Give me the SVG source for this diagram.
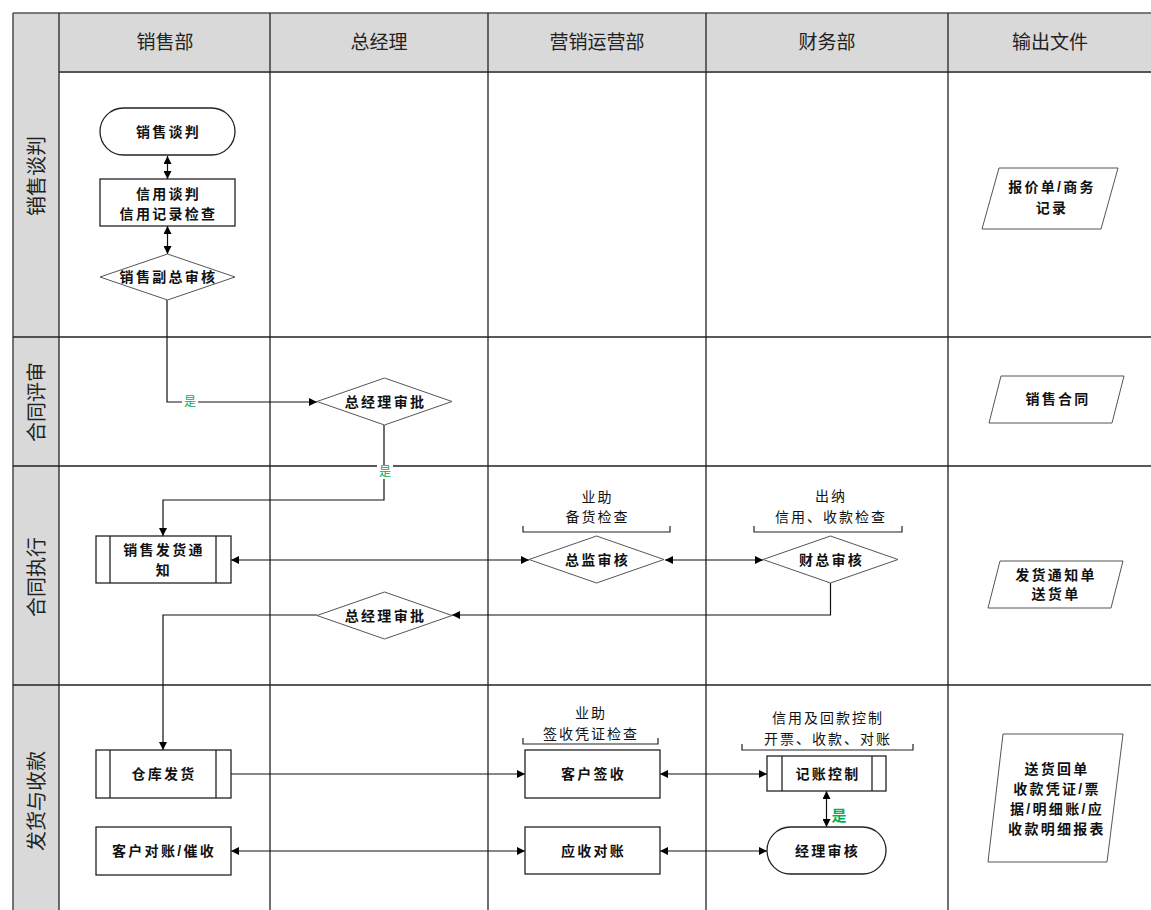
<svg xmlns="http://www.w3.org/2000/svg" width="1151" height="910" viewBox="0 0 1151 910">
<style>
.grid{stroke:#222;stroke-width:1.3;fill:none}
.hdr{font-family:"Liberation Sans","Noto Sans CJK SC",sans-serif;font-size:19px;fill:#222;text-anchor:middle;dominant-baseline:central}
.lane{font-family:"Liberation Sans","Noto Sans CJK SC",sans-serif;font-size:20px;fill:#222;text-anchor:middle;dominant-baseline:central}
.box{fill:#fff;stroke:#222;stroke-width:1.3}
.dia{fill:#fff;stroke:#555;stroke-width:1}
.t{font-family:"Liberation Sans","Noto Sans CJK SC",sans-serif;font-size:14px;font-weight:bold;fill:#111;text-anchor:middle;dominant-baseline:central;letter-spacing:2.3px}
.a{font-family:"Liberation Sans","Noto Sans CJK SC",sans-serif;font-size:14px;fill:#111;text-anchor:middle;dominant-baseline:central;letter-spacing:2px}
.yes{font-family:"Liberation Sans","Noto Sans CJK SC",sans-serif;font-size:12px;fill:#00b050;text-anchor:middle;dominant-baseline:central}
.c{stroke:#111;stroke-width:1.2;fill:none}
.br{stroke:#222;stroke-width:1.2;fill:none}
</style>
<defs>
<marker id="ah" viewBox="0 0 10 10" refX="10" refY="5" markerWidth="10" markerHeight="8" markerUnits="userSpaceOnUse" orient="auto-start-reverse">
<path d="M0,0 L10,5 L0,10 z" fill="#000"/>
</marker>
</defs>
<rect width="1151" height="910" fill="#fff"/>
<g id="grid">
<rect x="13" y="13" width="1138" height="59" fill="#d9d9d9"/>
<rect x="13" y="72" width="46" height="838" fill="#d9d9d9"/>
<line class="grid" x1="13" y1="13" x2="1151" y2="13" style="stroke:#555;stroke-width:1.6"/>
<line class="grid" x1="59" y1="72" x2="1151" y2="72" style="stroke:#555;stroke-width:1.8"/>
<line class="grid" x1="13" y1="13" x2="13" y2="910" style="stroke:#555;stroke-width:1.6"/>
<line class="grid" x1="59" y1="13" x2="59" y2="910"/>
<line class="grid" x1="270" y1="13" x2="270" y2="910"/>
<line class="grid" x1="488" y1="13" x2="488" y2="910"/>
<line class="grid" x1="706" y1="13" x2="706" y2="910"/>
<line class="grid" x1="948" y1="13" x2="948" y2="910"/>
<line class="grid" x1="13" y1="337" x2="1151" y2="337"/>
<line class="grid" x1="13" y1="466" x2="1151" y2="466"/>
<line class="grid" x1="13" y1="685" x2="1151" y2="685"/>
<text class="hdr" x="165" y="42">销售部</text>
<text class="hdr" x="379" y="42">总经理</text>
<text class="hdr" x="597" y="42">营销运营部</text>
<text class="hdr" x="827" y="42">财务部</text>
<text class="hdr" x="1050" y="42">输出文件</text>
<text class="lane" transform="translate(37,176) rotate(-90)">销售谈判</text>
<text class="lane" transform="translate(37,402) rotate(-90)">合同评审</text>
<text class="lane" transform="translate(37,577) rotate(-90)">合同执行</text>
<text class="lane" transform="translate(37,801) rotate(-90)">发货与收款</text>
</g>
<g id="connectors">
<line class="c" x1="167.5" y1="156" x2="167.5" y2="179" marker-start="url(#ah)" marker-end="url(#ah)"/>
<line class="c" x1="167.5" y1="226" x2="167.5" y2="254" marker-start="url(#ah)" marker-end="url(#ah)"/>
<polyline class="c" points="167,300 167,402 317,402" marker-end="url(#ah)"/>
<polyline class="c" points="384,425 384,500 163,500 163,536" marker-end="url(#ah)"/>
<line class="c" x1="231" y1="560" x2="529" y2="560" marker-start="url(#ah)" marker-end="url(#ah)"/>
<line class="c" x1="665" y1="560" x2="763" y2="560" marker-start="url(#ah)" marker-end="url(#ah)"/>
<polyline class="c" points="830.5,583 830.5,615 452,615" marker-end="url(#ah)"/>
<polyline class="c" points="317,615 163,615 163,750" marker-end="url(#ah)"/>
<line class="c" x1="231" y1="774" x2="525" y2="774" marker-end="url(#ah)"/>
<line class="c" x1="660" y1="774" x2="767" y2="774" marker-start="url(#ah)" marker-end="url(#ah)"/>
<line class="c" x1="826.5" y1="791" x2="826.5" y2="827" marker-start="url(#ah)" marker-end="url(#ah)"/>
<line class="c" x1="231" y1="851" x2="525" y2="851" marker-start="url(#ah)" marker-end="url(#ah)"/>
<line class="c" x1="660" y1="851" x2="767" y2="851" marker-start="url(#ah)" marker-end="url(#ah)"/>
<rect x="182" y="395" width="16" height="14" fill="#fff"/>
<text class="yes" x="190" y="402">是</text>
<rect x="377" y="465" width="16" height="14" fill="#fff"/>
<text class="yes" x="385" y="472">是</text>
<text class="yes" x="839" y="815" style="font-size:15px;font-weight:bold">是</text>
</g>
<g id="n1"><rect class="box" x="100" y="108" width="135" height="47" rx="23.5"/><text class="t" x="168.5" y="131.5">销售谈判</text></g>
<g id="n2"><rect class="box" x="100" y="179" width="135" height="47"/><text class="t" x="168.5" y="194">信用谈判</text><text class="t" x="168.5" y="214">信用记录检查</text></g>
<g id="n3"><polygon class="dia" points="167.5,254 235,277 167.5,300 100,277"/><text class="t" x="168.5" y="277">销售副总审核</text></g>
<g id="n4"><polygon class="dia" points="384.5,378 452,401.5 384.5,425 317,401.5"/><text class="t" x="385.5" y="401.5">总经理审批</text></g>
<g id="n5"><rect class="box" x="96" y="536" width="135" height="47"/><line class="box" x1="110" y1="536" x2="110" y2="583"/><line class="box" x1="216" y1="536" x2="216" y2="583"/><text class="t" x="164" y="550">销售发货通</text><text class="t" x="164" y="570">知</text></g>
<g id="n6"><polygon class="dia" points="596.5,536 664,559.5 596.5,583 529,559.5"/><text class="t" x="597.5" y="559.5">总监审核</text>
<polyline class="br" points="523,526 523,532 670,532 670,526"/><text class="a" x="597.5" y="497">业助</text><text class="a" x="597.5" y="517">备货检查</text></g>
<g id="n7"><polygon class="dia" points="830.5,536 898,559.5 830.5,583 763,559.5"/><text class="t" x="831.5" y="559.5">财总审核</text>
<polyline class="br" points="754,526 754,532 902,532 902,526"/><text class="a" x="831" y="496">出纳</text><text class="a" x="831" y="517">信用、收款检查</text></g>
<g id="n8"><polygon class="dia" points="384.5,592 452,615.5 384.5,639 317,615.5"/><text class="t" x="385.5" y="615.5">总经理审批</text></g>
<g id="n9"><rect class="box" x="96" y="750" width="135" height="48"/><line class="box" x1="110" y1="750" x2="110" y2="798"/><line class="box" x1="216" y1="750" x2="216" y2="798"/><text class="t" x="164" y="774">仓库发货</text></g>
<g id="n10"><rect class="box" x="96" y="827" width="135" height="48"/><text class="t" x="164" y="851">客户对账/催收</text></g>
<g id="n11"><rect class="box" x="525" y="750" width="135" height="48"/><text class="t" x="593.5" y="774">客户签收</text>
<polyline class="br" points="523,738 523,744 658,744 658,738"/><text class="a" x="591" y="713">业助</text><text class="a" x="591" y="734">签收凭证检查</text></g>
<g id="n12"><rect class="box" x="525" y="827" width="135" height="47"/><text class="t" x="593.5" y="851">应收对账</text></g>
<g id="n13"><rect class="box" x="767" y="756" width="119" height="35"/><line class="box" x1="782" y1="756" x2="782" y2="791"/><line class="box" x1="872" y1="756" x2="872" y2="791"/><text class="t" x="828" y="773.5">记账控制</text>
<polyline class="br" points="742,744 742,750 913,750 913,744"/><text class="a" x="828" y="718">信用及回款控制</text><text class="a" x="828" y="739">开票、收款、对账</text></g>
<g id="n14"><rect class="box" x="767" y="827" width="119" height="47" rx="23.5"/><text class="t" x="827.5" y="850.5">经理审核</text></g>
<g id="o1"><polygon class="dia" points="999,168 1118,168 1101,229 982,229"/><text class="t" x="1052" y="187">报价单/商务</text><text class="t" x="1052" y="208">记录</text></g>
<g id="o2"><polygon class="dia" points="1001,376 1124,376 1112,423 989,423"/><text class="t" x="1058" y="399">销售合同</text></g>
<g id="o3"><polygon class="dia" points="1000,561 1123,561 1111,608 988,608"/><text class="t" x="1056" y="575">发货通知单</text><text class="t" x="1056" y="594">送货单</text></g>
<g id="o4"><polygon class="dia" points="1003,734 1123,734 1107,862 988,862"/><text class="t" x="1057" y="769">送货回单</text><text class="t" x="1057" y="789">收款凭证/票</text><text class="t" x="1057" y="809">据/明细账/应</text><text class="t" x="1057" y="829">收款明细报表</text></g>
</svg>
